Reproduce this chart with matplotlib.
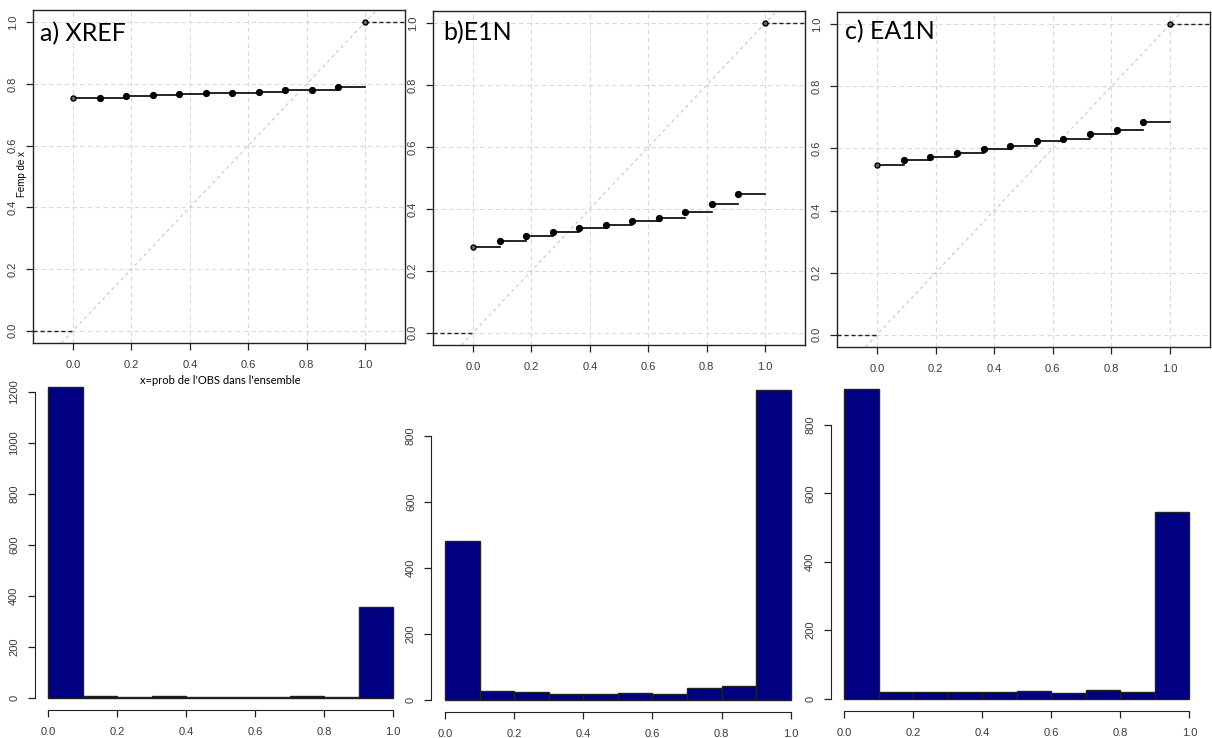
import numpy as np
import matplotlib.pyplot as plt

# ECDF values (x = 0, 1/11, ..., 10/11, then 1)
x_ecdf = [i / 11 for i in range(11)] + [1.0]
femp_xref = [0.754, 0.756, 0.761, 0.764, 0.768, 0.771, 0.772, 0.774, 0.779, 0.782, 0.790, 1.0]
femp_e1n = [0.277, 0.297, 0.311, 0.326, 0.337, 0.348, 0.362, 0.370, 0.390, 0.417, 0.447, 1.0]
femp_ea1n = [0.546, 0.563, 0.574, 0.586, 0.598, 0.609, 0.623, 0.631, 0.646, 0.659, 0.686, 1.0]

# histogram counts, bins of width 0.1 on [0, 1]
bin_left = [0.0, 0.1, 0.2, 0.3, 0.4, 0.5, 0.6, 0.7, 0.8, 0.9]
counts_xref = [1217, 5, 3, 5, 3, 1, 2, 5, 2, 354]
counts_e1n = [480, 26, 22, 18, 18, 20, 16, 35, 40, 937]
counts_ea1n = [904, 18, 20, 18, 20, 22, 15, 24, 20, 545]

titles = ["a) XREF", "b)E1N", "c) EA1N"]
ticks01 = [0.0, 0.2, 0.4, 0.6, 0.8, 1.0]
tick_lbl = ["0.0", "0.2", "0.4", "0.6", "0.8", "1.0"]

W, H = 1212, 738


def rect(l, t, r, b):
    return [l / W, 1 - b / H, (r - l) / W, (b - t) / H]


fig = plt.figure(figsize=(W / 100, H / 100), dpi=100)
plt.rcParams['font.family'] = ['Liberation Sans', 'DejaVu Sans']

top_boxes = [(33, 10, 405, 343), (433, 11, 805, 345), (837, 12, 1210, 347)]
bot_boxes = [(34.5, 375, 406.8, 710), (431.2, 378, 804.5, 712), (830.5, 377, 1203.1, 711)]
title_pos = [(40, 41), (443, 40), (845, 39)]
ecdfs = [femp_xref, femp_e1n, femp_ea1n]
hists = [counts_xref, counts_e1n, counts_ea1n]
hist_ticks = [[0, 200, 400, 600, 800, 1000, 1200], [0, 200, 400, 600, 800], [0, 200, 400, 600, 800]]

lbl_col = '#3a3a3a'

for k in range(3):
    # --- top: empirical CDF
    ax = fig.add_axes(rect(*top_boxes[k]))
    xl = (-0.137, 1.137)
    ax.set_xlim(xl)
    ax.set_ylim(-0.04, 1.04)
    for v in ticks01:
        ax.axvline(v, color='#d9d9d9', ls=(0, (4, 3)), lw=0.8, zorder=0)
        ax.axhline(v, color='#d9d9d9', ls=(0, (4, 3)), lw=0.8, zorder=0)
    ax.axline((0, 0), (1, 1), color='#c8c8c8', ls=(0, (3, 3)), lw=0.8, zorder=1)

    y = ecdfs[k]
    for i in range(11):
        ax.plot([x_ecdf[i], x_ecdf[i + 1]], [y[i], y[i]], color='black', lw=1.2, zorder=2)
    ax.plot([xl[0], 0], [0, 0], color='#222222', ls=(0, (3, 2)), lw=1, zorder=2)
    ax.plot([1, xl[1]], [1, 1], color='#222222', ls=(0, (3, 2)), lw=1, zorder=2)
    ax.plot(x_ecdf[1:11], y[1:11], 'o', color='black', ms=4.2, zorder=3)
    ax.plot([x_ecdf[0], x_ecdf[11]], [y[0], y[11]], 'o', mfc='#666666', mec='black',
            ms=3.6, mew=1, zorder=3)

    ax.set_xticks(ticks01)
    ax.set_xticklabels(tick_lbl)
    ax.set_yticks(ticks01)
    ax.set_yticklabels(tick_lbl, rotation=90, va='center')
    ax.tick_params(length=5, width=0.9, labelsize=8, colors='#222222', labelcolor=lbl_col)
    ax.tick_params(axis='x', pad=7)
    ax.tick_params(axis='y', pad=6)
    for s in ax.spines.values():
        s.set_color('#222222')
        s.set_linewidth(1)
    tx, ty = title_pos[k]
    fig.text(tx / W, 1 - ty / H, titles[k], family=['Lato', 'DejaVu Sans'],
             fontsize=18, va='baseline', ha='left')

    # --- bottom: histogram
    hx = fig.add_axes(rect(*bot_boxes[k]))
    c = hists[k]
    top = max(c)
    hx.bar(bin_left, c, width=0.1, align='edge', color='#000080', edgecolor='#222222', lw=1)
    hx.set_xlim(-0.04, 1.04)
    hx.set_ylim(-0.04 * top, 1.04 * top)
    hx.spines['top'].set_visible(False)
    hx.spines['right'].set_visible(False)
    hx.spines['left'].set_bounds(0, hist_ticks[k][-1])
    hx.spines['bottom'].set_bounds(0, 1)
    hx.set_xticks(ticks01)
    hx.set_xticklabels(tick_lbl)
    hx.set_yticks(hist_ticks[k])
    hx.set_yticklabels([str(t) for t in hist_ticks[k]], rotation=90, va='center')
    hx.tick_params(length=5, width=0.9, labelsize=8, colors='#222222', labelcolor=lbl_col)
    hx.tick_params(axis='x', pad=7)
    hx.tick_params(axis='y', pad=6)
    for s in hx.spines.values():
        s.set_color('#222222')

fig.text(22 / W, 1 - 174 / H, "Femp de x", rotation=90, fontsize=7, ha='center', va='center')
fig.text(220 / W, 1 - 380 / H, "x=prob de l'OBS dans l'ensemble", family=['Lato', 'DejaVu Sans'],
         fontsize=8, ha='center', va='center')

fig.savefig('out.png', dpi=100)
